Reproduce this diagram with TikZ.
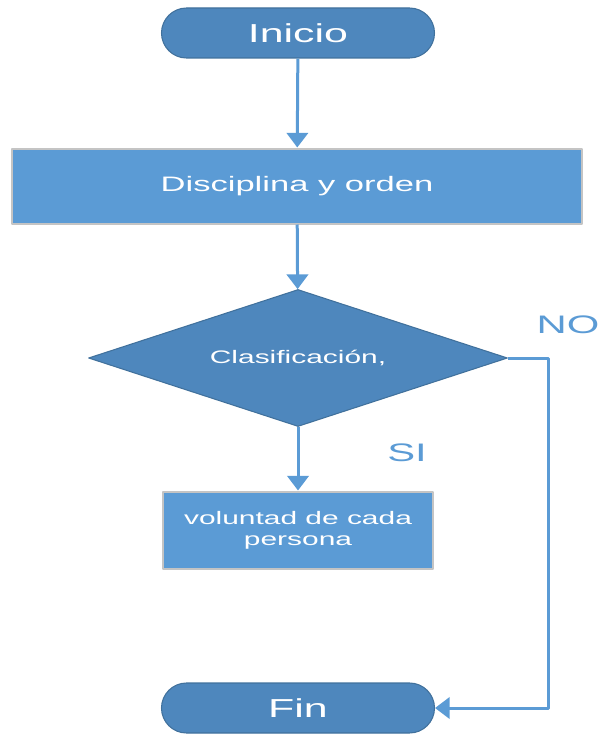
\documentclass[tikz,border=0pt]{standalone}
\usepackage{fontspec}
\newfontfamily\widesf{Liberation Sans}[FakeStretch=1.65]
\usetikzlibrary{positioning,shapes.geometric,shapes.misc,arrows.meta}
\definecolor{termfill}{HTML}{4E87BD}
\definecolor{termline}{HTML}{41719C}
\definecolor{procfill}{HTML}{5B9BD5}
\definecolor{procline}{HTML}{C4C4C4}
\definecolor{flowline}{HTML}{5B9BD5}

\begin{document}
\begin{tikzpicture}[x=0.75pt, y=-0.75pt, line join=round,
  term/.style={rounded rectangle, draw=termline, fill=termfill, line width=0.8pt,
    minimum width=204.75pt, minimum height=37.5pt, inner sep=0pt, text=white,
    font=\widesf\fontsize{19.5}{22}\selectfont},
  proc/.style={rectangle, draw=procline, fill=procfill, line width=1.5pt, inner sep=0pt,
    text=white, align=center, font=\widesf\fontsize{13.6}{15.5}\selectfont},
  decis/.style={diamond, aspect=3.06, draw=termline, fill=termfill, line width=0.8pt,
    minimum width=314.25pt, minimum height=102.75pt, inner sep=0pt, text=white,
    font=\widesf\fontsize{13.6}{15.5}\selectfont},
  answer/.style={text=flowline, inner sep=0pt, font=\widesf\fontsize{19}{21}\selectfont},
  flow/.style={draw=flowline, line width=2.25pt, -{Triangle[width=16pt,length=11pt]}}]
\useasboundingbox (0,0) rectangle (605,735);
\node[term] (inicio) at (298,33) {Inicio};
\node[proc, minimum width=427.5pt, minimum height=56.25pt,
  font=\widesf\fontsize{15.7}{18}\selectfont] (disciplina) at (297,186) {Disciplina y orden};
\node[decis] (clasif) at (298,358) {Clasificación,};
\node[proc, minimum width=202.5pt, minimum height=57.75pt] (voluntad) at (298,530) {voluntad de cada\\persona};
\node[term] (fin) at (298,708) {Fin};
\node[answer] (si) at (407,453) {SI};
\node[answer] (no) at (568,325) {NO};
\coordinate (giro) at (548,708);
\draw[flow] (inicio) -- (disciplina);
\draw[flow] (disciplina) -- (clasif);
\draw[flow] (clasif) -- (voluntad);
\draw[flow] (clasif.east) -| (giro) -- (fin.east);
\end{tikzpicture}
\end{document}
